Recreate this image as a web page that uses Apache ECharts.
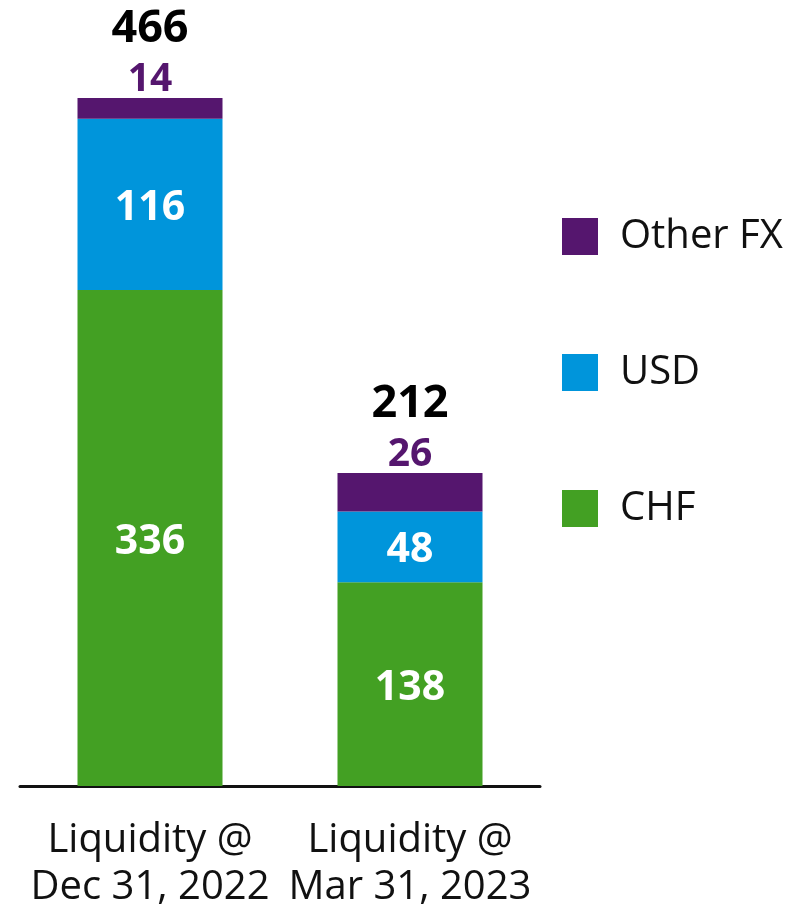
<!DOCTYPE html>
<html>
<head>
<meta charset="utf-8">
<script src="https://cdn.jsdelivr.net/npm/echarts@6/dist/echarts.min.js"></script>
<style>
  html, body { margin: 0; padding: 0; background: #fff; }
  #chart { width: 808px; height: 911px; }
</style>
</head>
<body>
<div id="chart"></div>
<script>
const categories = ['Liquidity @\nDec 31, 2022', 'Liquidity @\nMar 31, 2023'];
const chf = [336, 138];
const usd = [116, 48];
const otherFx = [14, 26];
const totals = [466, 212];

const FONT = '"Open Sans", "Noto Sans", sans-serif';
const colors = { other: '#55166e', usd: '#0095db', chf: '#43a023' };

const chart = echarts.init(document.getElementById('chart'));

const insideLabel = {
  show: true,
  position: 'inside',
  offset: [0, 4],
  color: '#fff',
  fontFamily: FONT,
  fontWeight: 'bold',
  fontSize: 41
};

chart.setOption({
  animation: false,
  grid: { left: 20, right: 268, top: 98, bottom: 124 },
  legend: {
    orient: 'vertical',
    left: 562,
    top: 216,
    padding: 0,
    itemWidth: 36,
    itemHeight: 37,
    itemGap: 95,
    icon: 'rect',
    data: ['Other FX', 'USD', 'CHF'],
    textStyle: { fontFamily: FONT, fontSize: 40, lineHeight: 37, color: '#111', padding: [4, 0, 0, 17] }
  },
  xAxis: {
    type: 'category',
    data: categories,
    axisLine: { lineStyle: { color: '#111', width: 3 } },
    axisTick: { show: false },
    axisLabel: {
      interval: 0,
      hideOverlap: false,
      margin: 31,
      fontFamily: FONT,
      fontSize: 40,
      lineHeight: 47,
      color: '#111'
    }
  },
  yAxis: {
    type: 'value',
    min: 0,
    max: Math.max(...totals),
    show: false,
    splitLine: { show: false }
  },
  series: [
    {
      name: 'CHF', type: 'bar', stack: 'liq', data: chf, barWidth: 145,
      itemStyle: { color: colors.chf }, label: insideLabel
    },
    {
      name: 'USD', type: 'bar', stack: 'liq', data: usd, barWidth: 145,
      itemStyle: { color: colors.usd }, label: insideLabel
    },
    {
      name: 'Other FX', type: 'bar', stack: 'liq', data: otherFx, barWidth: 145,
      itemStyle: { color: colors.other },
      label: {
        show: true,
        position: 'top',
        distance: 0,
        formatter: p => '{t|' + totals[p.dataIndex] + '}\n{v|' + p.value + '}',
        rich: {
          t: { fontFamily: FONT, fontWeight: 'bold', fontSize: 45, color: '#000', lineHeight: 66 },
          v: { fontFamily: FONT, fontWeight: 'bold', fontSize: 39, color: colors.other, lineHeight: 36 }
        }
      }
    }
  ]
});
</script>
</body>
</html>
